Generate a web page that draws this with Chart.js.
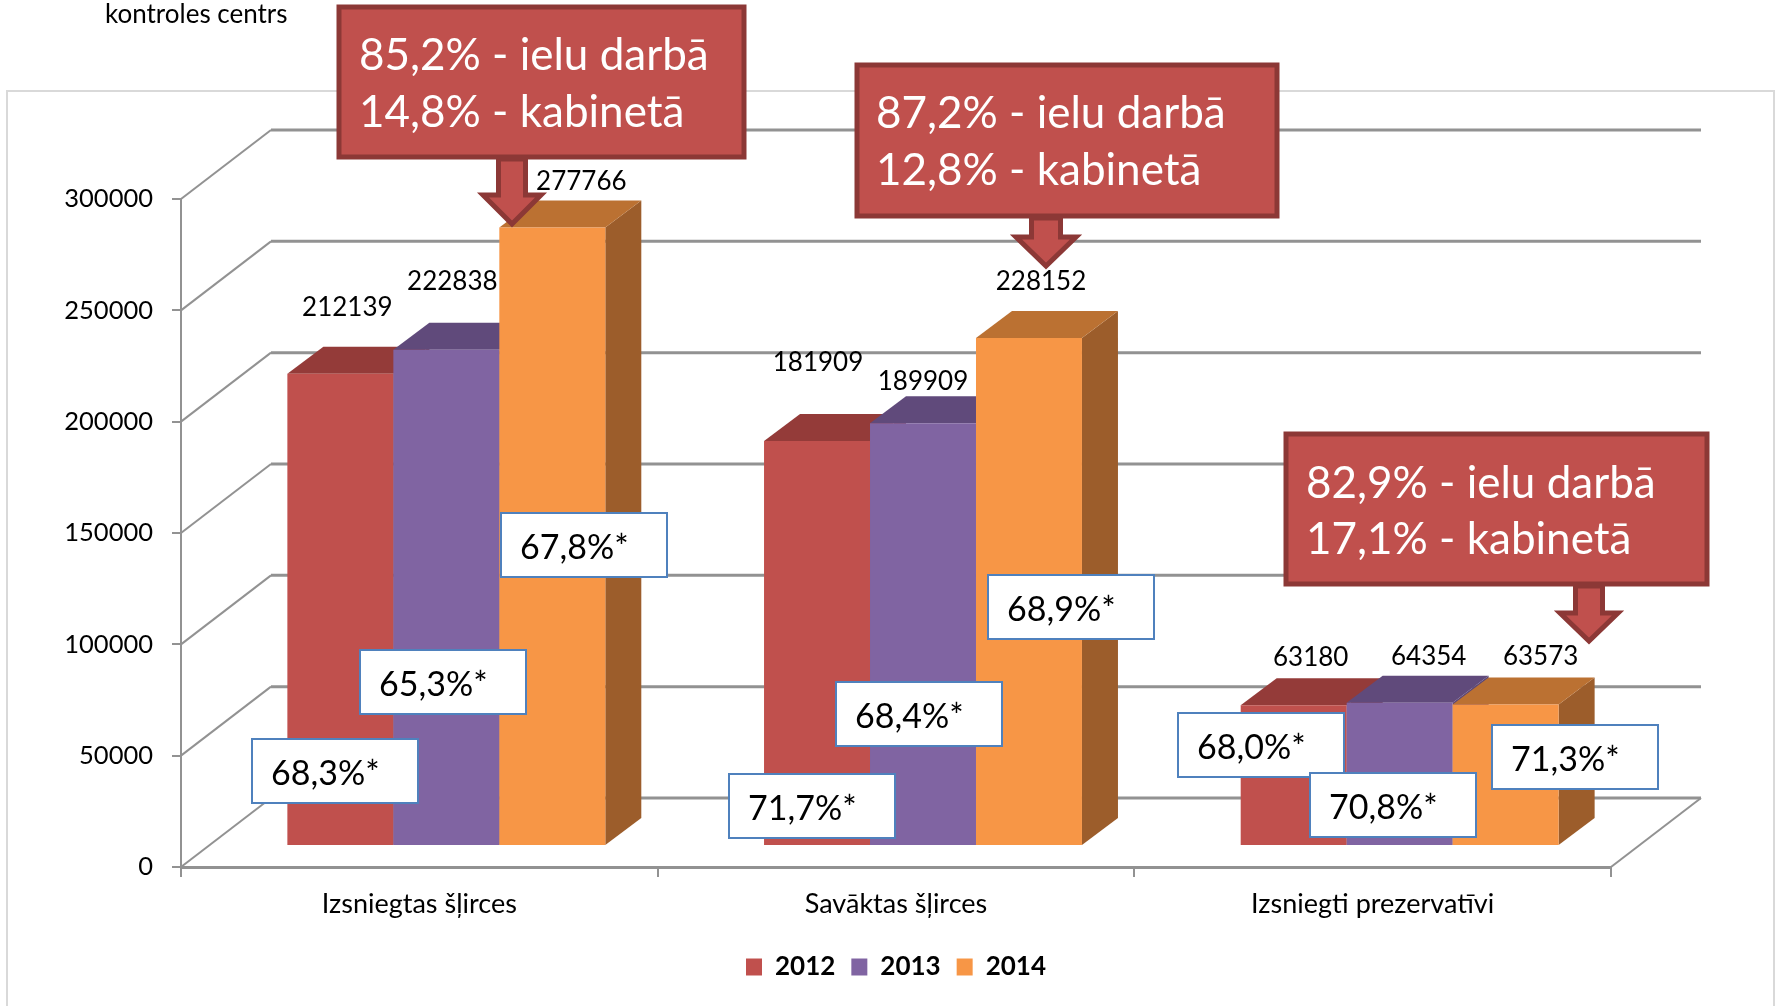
<!DOCTYPE html>
<html lang="lv">
<head>
<meta charset="utf-8">
<title>Šļirces un prezervatīvi</title>
<style>html,body{margin:0;padding:0;background:#fff}canvas{display:block}</style>
<script src="https://cdn.jsdelivr.net/npm/chart.js@4"></script>
</head>
<body>
<canvas id="c" width="1777" height="1006"></canvas>
<script>
const categories = ['Izsniegtas šļirces', 'Savāktas šļirces', 'Izsniegti prezervatīvi'];
const years = ['2012', '2013', '2014'];
const values2012 = [212139, 181909, 63180];
const values2013 = [222838, 189909, 64354];
const values2014 = [277766, 228152, 63573];
const percent2012 = ['68,3%*', '71,7%*', '68,0%*'];
const percent2013 = ['65,3%*', '68,4%*', '70,8%*'];
const percent2014 = ['67,8%*', '68,9%*', '71,3%*'];
const calloutLines = [
  ['85,2% - ielu darbā', '14,8% - kabinetā'],
  ['87,2% - ielu darbā', '12,8% - kabinetā'],
  ['82,9% - ielu darbā', '17,1% - kabinetā']
];
const sourceNote = 'kontroles centrs';

const FONT = 'Lato, Carlito, sans-serif';
const fronts = ['#C0504D', '#8064A2', '#F79646'];
const tops = ['#943B39', '#604A7B', '#BB7132'];
const sides = ['#8C3836', '#5C4676', '#9C5D2B'];
const GRID = '#929292';
const WALL = {dx: 90, dy: 69};
const BAR_SHIFT = {dx: 27, dy: 21};
const BAR_DEPTH = {dx: 36, dy: 27};

// value label offset from the centre of each bar's top edge [series][category]
const labelOffsets = [
  [[7, -66], [1, -78], [17, -48]],
  [[6, -68], [0, -42], [29, -46]],
  [[29, -46], [12, -56], [35, -48]]
];
// percent box left/top on the page [series][category]
const boxPlaces = [
  [[252, 739], [729, 774], [1178, 713]],
  [[360, 650], [836, 682], [1310, 773]],
  [[501, 513], [988, 575], [1492, 725]]
];
const BOX = {w: 166, h: 64, padX: 19, base: 46};
const calloutPlaces = [
  {x: 337, y: 5, w: 409, h: 154, tx: 359, b: [70, 127], ax: 512, sw: 27, hw: 58, hy: 195, ty: 228},
  {x: 855, y: 63, w: 424, h: 155, tx: 876, b: [128, 185], ax: 1046, sw: 29, hw: 60, hy: 237, ty: 270},
  {x: 1284, y: 432, w: 425, h: 154, tx: 1306, b: [498, 554], ax: 1589, sw: 27, hw: 58, hy: 613, ty: 645}
];

const scene = {
  id: 'scene',
  beforeDraw(chart) {
    const c = chart.ctx;
    c.save();
    c.fillStyle = '#fff';
    c.fillRect(0, 0, chart.width, chart.height);
    c.strokeStyle = '#D9D9D9';
    c.lineWidth = 2;
    c.strokeRect(7, 91, 1767, 1200);
    c.fillStyle = '#000';
    c.textAlign = 'left';
    c.textBaseline = 'alphabetic';
    c.font = '26px ' + FONT;
    c.fillText(sourceNote, 105, 23);
    c.restore();
  },
  beforeDatasetsDraw(chart) {
    const c = chart.ctx, y = chart.scales.y, a = chart.chartArea;
    c.save();
    c.strokeStyle = GRID;
    y.ticks.forEach(t => {
      const p = y.getPixelForValue(t.value);
      c.lineWidth = 2;
      c.beginPath();
      c.moveTo(a.left, p);
      c.lineTo(a.left + WALL.dx, p - WALL.dy);
      c.stroke();
      c.lineWidth = 3;
      c.beginPath();
      c.moveTo(a.left + WALL.dx, p - WALL.dy);
      c.lineTo(a.right + WALL.dx, p - WALL.dy);
      c.stroke();
    });
    const p0 = y.getPixelForValue(0);
    c.lineWidth = 2;
    c.beginPath();
    c.moveTo(a.right, p0);
    c.lineTo(a.right + WALL.dx, p0 - WALL.dy);
    c.stroke();
    // extruded bars, drawn left to right so nearer faces overlap correctly
    c.translate(BAR_SHIFT.dx, -BAR_SHIFT.dy);
    chart.getSortedVisibleDatasetMetas().slice().sort((m, n) => m.index - n.index).forEach(meta => {
      meta.data.forEach(el => {
        const l = el.x - el.width / 2, r = el.x + el.width / 2;
        c.fillStyle = sides[meta.index];
        c.beginPath();
        c.moveTo(r, el.y);
        c.lineTo(r + BAR_DEPTH.dx, el.y - BAR_DEPTH.dy);
        c.lineTo(r + BAR_DEPTH.dx, el.base - BAR_DEPTH.dy);
        c.lineTo(r, el.base);
        c.closePath();
        c.fill();
        c.fillStyle = tops[meta.index];
        c.beginPath();
        c.moveTo(l, el.y);
        c.lineTo(l + BAR_DEPTH.dx, el.y - BAR_DEPTH.dy);
        c.lineTo(r + BAR_DEPTH.dx, el.y - BAR_DEPTH.dy);
        c.lineTo(r, el.y);
        c.closePath();
        c.fill();
        el.draw(c);
      });
    });
    c.restore();
  },
  beforeDatasetDraw() { return false; },
  afterDatasetsDraw(chart) {
    const c = chart.ctx;
    c.save();
    // value labels
    c.font = '26px ' + FONT;
    c.fillStyle = '#000';
    c.textAlign = 'center';
    c.textBaseline = 'middle';
    chart.data.datasets.forEach((ds, s) => {
      chart.getDatasetMeta(s).data.forEach((el, i) => {
        const o = labelOffsets[s][i];
        c.fillText(String(ds.data[i]), el.x + BAR_SHIFT.dx + o[0], el.y - BAR_SHIFT.dy + o[1]);
      });
    });
    // percent boxes
    c.textAlign = 'left';
    c.textBaseline = 'alphabetic';
    [percent2012, percent2013, percent2014].forEach((list, s) => {
      list.forEach((txt, i) => {
        const [x, y] = boxPlaces[s][i];
        c.fillStyle = '#fff';
        c.fillRect(x, y, BOX.w, BOX.h);
        c.strokeStyle = '#4F81BD';
        c.lineWidth = 2;
        c.strokeRect(x, y, BOX.w, BOX.h);
        c.fillStyle = '#000';
        c.font = '34px ' + FONT;
        c.fillText(txt, x + BOX.padX, y + BOX.base);
      });
    });
    // callouts
    calloutPlaces.forEach((p, i) => {
      c.lineJoin = 'miter';
      c.lineWidth = 5;
      c.strokeStyle = '#8C3836';
      c.fillStyle = '#C0504D';
      c.beginPath();
      c.moveTo(p.ax - p.sw / 2, p.y + p.h);
      c.lineTo(p.ax - p.sw / 2, p.hy);
      c.lineTo(p.ax - p.hw / 2, p.hy);
      c.lineTo(p.ax, p.ty - 4);
      c.lineTo(p.ax + p.hw / 2, p.hy);
      c.lineTo(p.ax + p.sw / 2, p.hy);
      c.lineTo(p.ax + p.sw / 2, p.y + p.h);
      c.closePath();
      c.fill();
      c.stroke();
      c.fillRect(p.x, p.y, p.w, p.h);
      c.strokeRect(p.x + 2, p.y + 2, p.w - 4, p.h - 4);
      c.fillStyle = '#fff';
      c.font = '44px ' + FONT;
      calloutLines[i].forEach((line, k) => c.fillText(line, p.tx, p.b[k]));
    });
    c.restore();
  }
};

new Chart(document.getElementById('c'), {
  type: 'bar',
  data: {
    labels: categories,
    datasets: [values2012, values2013, values2014].map((data, i) => ({
      label: years[i],
      data,
      backgroundColor: fronts[i],
      borderWidth: 0,
      categoryPercentage: 0.667,
      barPercentage: 1
    }))
  },
  options: {
    responsive: false,
    animation: false,
    events: [],
    layout: {padding: {left: 0, right: 166, top: 199, bottom: 16}},
    plugins: {
      tooltip: {enabled: false},
      title: {display: false},
      legend: {
        position: 'bottom',
        fullSize: false,
        labels: {
          boxWidth: 16,
          boxHeight: 17,
          padding: 16,
          color: '#000',
          font: {family: FONT, size: 26, weight: 'bold'}
        }
      }
    },
    scales: {
      x: {
        afterFit(s) { s.height = 71; },
        grid: {drawOnChartArea: false, drawTicks: true, tickLength: 10, color: GRID, lineWidth: 2},
        border: {color: GRID, width: 3},
        ticks: {color: '#000', font: {family: FONT, size: 27}, padding: 11, maxRotation: 0}
      },
      y: {
        min: 0,
        max: 300000,
        afterFit(s) { s.width = 181; },
        grid: {drawOnChartArea: false, drawTicks: true, tickLength: 9, color: GRID, lineWidth: 2},
        border: {color: GRID, width: 2},
        ticks: {stepSize: 50000, color: '#000', font: {family: FONT, size: 25.5}, padding: 19, callback: v => String(v)}
      }
    }
  },
  plugins: [scene]
});
</script>
</body>
</html>
